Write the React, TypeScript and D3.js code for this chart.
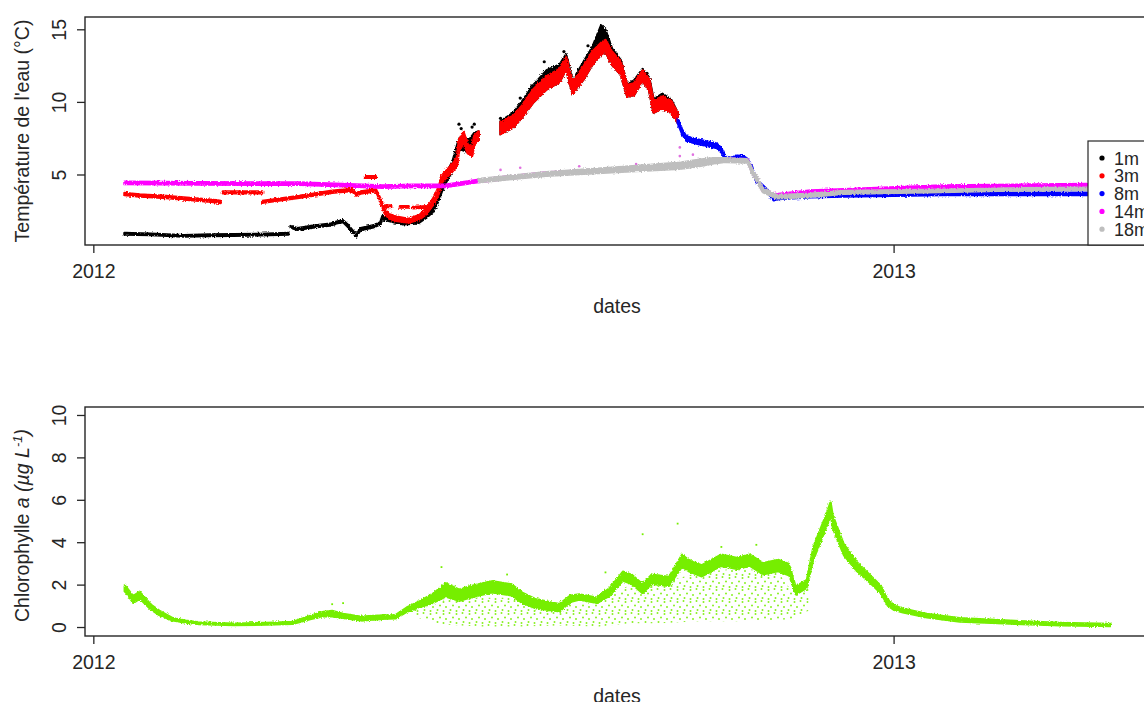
import React from 'react';
import * as d3 from 'd3';

const FONT = '"Liberation Sans", Arial, Helvetica, sans-serif';
const INK = '#262626';
const FS = 19.5;

// ---------- water temperature (°C) ----------
// 1m sensor (black); null = gap in the record
const t1mDates = [
  '2012-01-15', '2012-01-27', '2012-02-11', '2012-02-23', '2012-03-05', '2012-03-17', '2012-03-30',
  '2012-03-30',
  '2012-03-31', '2012-04-03', '2012-04-12', '2012-04-18', '2012-04-21', '2012-04-24', '2012-04-26', '2012-04-30',
  '2012-05-02', '2012-05-08', '2012-05-11', '2012-05-12', '2012-05-17', '2012-05-21', '2012-05-28', '2012-06-01',
  '2012-06-04', '2012-06-06', '2012-06-09', '2012-06-13', '2012-06-16', '2012-06-20', '2012-06-23', '2012-06-25',
  '2012-06-25',
  '2012-07-05', '2012-07-11', '2012-07-15', '2012-07-20', '2012-07-26', '2012-08-01', '2012-08-04', '2012-08-07',
  '2012-08-12', '2012-08-16', '2012-08-20', '2012-08-22', '2012-08-25', '2012-08-29', '2012-09-01', '2012-09-04',
  '2012-09-08', '2012-09-11', '2012-09-13', '2012-09-17', '2012-09-21', '2012-09-24',
];
const t1mLow = [
  0.9, 0.86, 0.76, 0.8, 0.82, 0.84, 0.9,
  null,
  1.38, 1.22, 1.42, 1.52, 1.66, 1.76, 1.46, 0.76, 1.2, 1.4, 1.6, 1.95, 1.75, 1.6, 1.65, 2.05,
  2.45, 3.0, 4.2, 5.3, 6.8, 6.6, 7.2, 7.4,
  null,
  7.8, 8.3, 9.0, 10.0, 10.9, 11.4, 12.3, 10.6, 11.6, 12.6, 13.3, 13.5, 12.6, 11.9, 10.4, 10.5,
  11.5, 10.8, 9.3, 9.6, 9.3, 8.6,
];
const t1mHigh = [
  1.0, 0.96, 0.86, 0.9, 0.92, 0.94, 1.0,
  null,
  1.5, 1.34, 1.54, 1.64, 1.78, 1.88, 1.6, 0.88, 1.34, 1.54, 1.74, 2.18, 1.93, 1.76, 1.8, 2.28,
  2.8, 3.4, 4.8, 5.9, 7.5, 7.3, 7.9, 8.0,
  null,
  8.7, 9.3, 10.1, 11.2, 12.2, 12.6, 13.3, 11.5, 12.8, 13.8, 15.3, 15.0, 13.7, 12.9, 11.2, 11.5,
  12.3, 11.7, 10.2, 10.6, 10.2, 9.3,
];
const t1mDotDates = ['2012-06-16', '2012-06-17', '2012-06-22', '2012-06-23', '2012-07-05', '2012-07-14', '2012-07-25', '2012-08-03', '2012-08-14', '2012-09-10'];
const t1mDotValues = [8.5, 8.2, 8.3, 8.5, 8.9, 10.3, 12.8, 13.5, 13.9, 12.0];

// 3m sensor (red)
const t3mDates = [
  '2012-01-15', '2012-01-22', '2012-02-03', '2012-02-18', '2012-02-26', '2012-02-28',
  '2012-02-28',
  '2012-02-29', '2012-03-18',
  '2012-03-18',
  '2012-05-04', '2012-05-09',
  '2012-05-09',
  '2012-05-13', '2012-05-16',
  '2012-05-16',
  '2012-05-20', '2012-05-24',
  '2012-05-24',
  '2012-05-26', '2012-06-01',
  '2012-06-01',
  '2012-03-18', '2012-04-04', '2012-04-19', '2012-04-28', '2012-04-30', '2012-05-02', '2012-05-09', '2012-05-11',
  '2012-05-13', '2012-05-15', '2012-05-18', '2012-05-24', '2012-05-29', '2012-06-01', '2012-06-03', '2012-06-05',
  '2012-06-07', '2012-06-08', '2012-06-13', '2012-06-15', '2012-06-16', '2012-06-18', '2012-06-20', '2012-06-22',
  '2012-06-23', '2012-06-25',
  '2012-06-25',
  '2012-07-05', '2012-07-11', '2012-07-15', '2012-07-20', '2012-07-26', '2012-08-01', '2012-08-04', '2012-08-07',
  '2012-08-12', '2012-08-16', '2012-08-20', '2012-08-22', '2012-08-25', '2012-08-29', '2012-09-01', '2012-09-04',
  '2012-09-08', '2012-09-11', '2012-09-13', '2012-09-17', '2012-09-21', '2012-09-24',
];
const t3mLow = [
  3.62, 3.52, 3.42, 3.22, 3.12, 3.07,
  null,
  3.74, 3.74,
  null,
  4.8, 4.8,
  null,
  2.8, 2.8,
  null,
  2.75, 2.75,
  null,
  2.7, 2.75,
  null,
  3.08, 3.42, 3.78, 3.9, 3.58, 3.72, 3.88, 3.2, 2.35, 2.0, 1.85, 1.72, 1.95, 2.3, 2.7, 3.1,
  3.8, 4.45, 5.25, 5.6, 6.6, 7.2, 6.5, 6.3, 7.1, 7.4,
  null,
  7.8, 8.3, 9.0, 10.0, 10.9, 11.4, 12.3, 10.6, 11.6, 12.6, 13.3, 13.5, 12.6, 11.9, 10.4, 10.5,
  11.5, 10.8, 9.3, 9.6, 9.3, 8.6,
];
const t3mHigh = [
  3.76, 3.66, 3.56, 3.36, 3.26, 3.21,
  null,
  3.86, 3.86,
  null,
  4.92, 4.92,
  null,
  2.9, 2.9,
  null,
  2.85, 2.85,
  null,
  2.8, 2.85,
  null,
  3.22, 3.56, 3.92, 4.04, 3.72, 3.86, 4.02, 3.4, 2.65, 2.3, 2.15, 1.98, 2.25, 2.7, 3.1, 3.6,
  4.3, 4.95, 5.75, 6.2, 7.4, 8.0, 7.1, 6.9, 7.7, 8.0,
  null,
  8.6, 9.1, 9.8, 10.9, 11.8, 12.3, 13.1, 11.4, 12.5, 13.5, 14.1, 14.3, 13.5, 12.8, 11.2, 11.3,
  12.2, 11.6, 10.1, 10.4, 10.1, 9.3,
];

// 8m sensor (blue)
const t8mDates = [
  '2012-09-24', '2012-09-26', '2012-09-28', '2012-10-03', '2012-10-12', '2012-10-14', '2012-10-16', '2012-10-19',
  '2012-10-21', '2012-10-24', '2012-10-26', '2012-10-28', '2012-10-30', '2012-11-04', '2012-11-07', '2012-11-09',
  '2012-11-24', '2012-12-09', '2013-01-01', '2013-01-23', '2013-02-23', '2013-03-18', '2013-03-30', '2013-04-10',
];
const t8mLow = [8.6, 7.85, 7.35, 7.15, 6.85, 6.55, 6.0, 6.0, 6.15, 6.1, 5.9, 5.4, 4.5, 3.8, 3.25, 3.35, 3.47, 3.52, 3.57, 3.62, 3.62, 3.62, 3.62, 3.62];
const t8mHigh = [8.9, 8.15, 7.65, 7.45, 7.15, 6.85, 6.2, 6.2, 6.35, 6.3, 6.1, 5.6, 4.7, 4.0, 3.45, 3.55, 3.63, 3.68, 3.73, 3.78, 3.78, 3.78, 3.78, 3.78];

// 14m sensor (magenta)
const t14mDates = [
  '2012-01-15', '2012-02-18', '2012-04-04', '2012-04-27', '2012-05-12', '2012-05-26', '2012-06-10', '2012-06-25',
  '2012-07-26', '2012-08-25', '2012-09-25', '2012-10-10', '2012-10-16', '2012-10-26', '2012-10-28', '2012-11-02',
  '2012-11-08', '2012-11-24', '2013-01-23', '2013-03-30', '2013-04-10',
];
const t14mLow = [4.37, 4.34, 4.32, 4.2, 4.12, 4.17, 4.17, 4.52, 5.02, 5.27, 5.52, 5.87, 5.97, 5.92, 5.22, 3.87, 3.52, 3.77, 4.12, 4.22, 4.22];
const t14mHigh = [4.53, 4.5, 4.48, 4.36, 4.28, 4.33, 4.33, 4.68, 5.18, 5.43, 5.68, 6.03, 6.13, 6.08, 5.38, 4.03, 3.68, 3.93, 4.28, 4.38, 4.38];
const t14mDotDates = ['2012-07-05', '2012-07-14', '2012-08-10', '2012-09-05', '2012-09-25', '2012-09-25', '2012-10-01'];
const t14mDotValues = [5.35, 5.5, 5.6, 5.75, 6.3, 6.9, 6.4];

// 18m sensor (grey)
const t18mDates = [
  '2012-06-25', '2012-07-26', '2012-08-25', '2012-09-25', '2012-10-04', '2012-10-10', '2012-10-16', '2012-10-26',
  '2012-10-28', '2012-11-02', '2012-11-08', '2012-11-11', '2012-11-24', '2012-12-09', '2013-01-23', '2013-02-23',
  '2013-03-30', '2013-04-10',
];
const t18mLow = [4.5, 4.95, 5.18, 5.42, 5.62, 5.78, 5.9, 5.85, 5.15, 3.82, 3.4, 3.4, 3.5, 3.7, 3.82, 3.92, 3.97, 3.97];
const t18mHigh = [4.72, 5.2, 5.5, 5.85, 6.05, 6.15, 6.15, 6.08, 5.45, 4.1, 3.65, 3.62, 3.72, 3.9, 3.98, 4.08, 4.13, 4.13];

// ---------- chlorophyll a (µg/L) ----------
const chlDates = [
  '2012-01-15', '2012-01-16', '2012-01-19', '2012-01-22', '2012-01-27', '2012-01-31', '2012-02-06', '2012-02-12',
  '2012-02-18', '2012-03-05', '2012-03-20', '2012-04-01', '2012-04-09', '2012-04-15', '2012-04-19', '2012-04-24',
  '2012-05-02', '2012-05-12', '2012-05-18', '2012-05-23', '2012-05-29', '2012-06-04', '2012-06-10', '2012-06-16',
  '2012-06-21', '2012-07-01', '2012-07-10', '2012-07-15', '2012-07-21', '2012-08-01', '2012-08-06', '2012-08-10',
  '2012-08-18', '2012-08-24', '2012-08-30', '2012-09-03', '2012-09-08', '2012-09-12', '2012-09-20', '2012-09-26',
  '2012-09-29', '2012-10-05', '2012-10-14', '2012-10-21', '2012-10-27', '2012-11-02', '2012-11-09', '2012-11-14',
  '2012-11-17', '2012-11-22', '2012-11-25', '2012-11-30', '2012-12-03', '2012-12-04', '2012-12-09', '2012-12-15',
  '2012-12-21', '2012-12-26', '2012-12-29', '2013-01-01', '2013-01-05', '2013-01-16', '2013-01-31', '2013-02-23',
  '2013-03-18', '2013-04-10',
];
const chlLow = [
  1.7, 1.6, 1.15, 1.35, 0.85, 0.57, 0.32, 0.22, 0.15, 0.1, 0.12, 0.16, 0.38, 0.52, 0.52, 0.44,
  0.32, 0.4, 0.42, 0.72, 0.95, 1.15, 1.45, 1.25, 1.4, 1.65, 1.5, 1.15, 0.9, 0.75, 1.2, 1.3,
  1.15, 1.5, 2.2, 2.05, 1.6, 2.05, 1.95, 2.85, 2.65, 2.4, 2.9, 2.75, 2.9, 2.5, 2.65, 2.45,
  1.55, 1.85, 3.15, 4.45, 5.25, 4.65, 3.4, 2.65, 2.1, 1.6, 1.03, 0.82, 0.7, 0.47, 0.27, 0.17,
  0.09, 0.06,
];
const chlHigh = [
  2.0, 1.9, 1.5, 1.7, 1.1, 0.8, 0.46, 0.34, 0.25, 0.2, 0.23, 0.28, 0.56, 0.75, 0.8, 0.66,
  0.52, 0.58, 0.6, 0.95, 1.25, 1.6, 2.1, 1.8, 1.95, 2.2, 2.05, 1.65, 1.35, 1.12, 1.52, 1.58,
  1.42, 1.88, 2.65, 2.5, 2.05, 2.5, 2.4, 3.45, 3.2, 2.95, 3.45, 3.3, 3.45, 3.05, 3.2, 3.0,
  1.95, 2.25, 3.8, 5.1, 5.95, 5.3, 3.95, 3.1, 2.48, 1.98, 1.35, 1.05, 0.9, 0.65, 0.45, 0.33,
  0.23, 0.18,
];
// sparse cloud of low readings under the main band
const chlCloudDates = [
  '2012-05-27', '2012-06-07', '2012-06-25', '2012-07-14', '2012-08-01', '2012-08-19', '2012-09-02',
  '2012-09-16', '2012-10-04', '2012-10-22', '2012-11-09', '2012-11-16', '2012-11-23',
];
const chlCloudLow = [0.5, 0.15, 0.05, 0.05, 0.1, 0.05, 0.2, 0.2, 0.3, 0.3, 0.35, 0.4, 0.8];
const chlCloudHigh = [0.9, 1.3, 1.4, 1.4, 1.1, 1.2, 2.0, 2.1, 2.6, 2.8, 2.6, 1.6, 2.0];
const chlDotDates = ['2012-04-19', '2012-04-24', '2012-06-08', '2012-07-08', '2012-08-22', '2012-09-08', '2012-09-24', '2012-10-14', '2012-10-30'];
const chlDotValues = [1.1, 1.15, 2.85, 2.5, 2.6, 4.4, 4.9, 3.8, 3.9];

// ---------- axes ----------
const yearTicks = ['2012-01-01', '2013-01-01'];
const yearLabels = ['2012', '2013'];
const tempTicks = [5, 10, 15];
const chlTicks = [0, 2, 4, 6, 8, 10];
const chlLimits = [0, 10];
const legendLabels = ['1m', '3m', '8m', '14m', '18m'];
const legendColors = ['#000000', '#ff0000', '#0000ff', '#ff00ff', '#bebebe'];
const CHL_GREEN = '#76ee00';

const parse = d3.timeParse('%Y-%m-%d');
const toDates = (a: string[]) => a.map(s => parse(s) as Date);

// R style 4% padding of a range
const pad = (a: number, b: number): [number, number] => {
  const d = (b - a) * 0.04;
  return [a - d, b + d];
};

const PLOT_L = 85;
const PLOT_R = 1150;
const TOP = { y0: 17, y1: 245 };
const BOT = { y0: 407, y1: 636 };

type Scale = (v: any) => number;

function band(dates: string[], lo: (number | null)[], hi: (number | null)[], x: Scale, y: Scale) {
  const ds = toDates(dates);
  return d3.area<number>()
    .defined(i => lo[i] != null && hi[i] != null)
    .x(i => x(ds[i]))
    .y0(i => y(lo[i] as number))
    .y1(i => y(hi[i] as number))(d3.range(ds.length)) || '';
}

const App: React.FC = () => {
  const allDates = toDates([...t1mDates, ...t3mDates, ...t8mDates, ...t14mDates, ...t18mDates, ...chlDates]);
  const [dMin, dMax] = d3.extent(allDates) as [Date, Date];
  const [xa, xb] = pad(+dMin, +dMax);
  const x = d3.scaleTime().domain([new Date(xa), new Date(xb)]).range([PLOT_L, PLOT_R]);

  const tempVals = [...t1mLow, ...t1mHigh, ...t3mLow, ...t3mHigh, ...t8mLow, ...t8mHigh, ...t14mLow, ...t14mHigh, ...t18mLow, ...t18mHigh]
    .filter((v): v is number => v != null);
  const [tMin, tMax] = d3.extent(tempVals) as [number, number];
  const yT = d3.scaleLinear().domain(pad(tMin, tMax)).range([TOP.y1, TOP.y0]);
  const yC = d3.scaleLinear().domain(pad(chlLimits[0], chlLimits[1])).range([BOT.y1, BOT.y0]);

  const tempSeries = [
    { d: t1mDates, lo: t1mLow, hi: t1mHigh, c: legendColors[0] },
    { d: t3mDates, lo: t3mLow, hi: t3mHigh, c: legendColors[1] },
    { d: t8mDates, lo: t8mLow, hi: t8mHigh, c: legendColors[2] },
    { d: t14mDates, lo: t14mLow, hi: t14mHigh, c: legendColors[3] },
    { d: t18mDates, lo: t18mLow, hi: t18mHigh, c: legendColors[4] },
  ];

  const xAxis = (yBase: number, labelY: number, titleY: number) => (
    <g fontFamily={FONT} fontSize={FS} fill={INK}>
      {toDates(yearTicks).map((t, i) => (
        <g key={i}>
          <line x1={x(t)} x2={x(t)} y1={yBase} y2={yBase + 8} stroke={INK} strokeWidth={1.3} />
          <text x={x(t)} y={labelY} textAnchor="middle">{yearLabels[i]}</text>
        </g>
      ))}
      <text x={617} y={titleY} textAnchor="middle">dates</text>
    </g>
  );

  const yAxis = (ticks: number[], y: Scale) => (
    <g fontFamily={FONT} fontSize={FS} fill={INK}>
      {ticks.map(t => (
        <g key={t}>
          <line x1={PLOT_L - 8} x2={PLOT_L} y1={y(t)} y2={y(t)} stroke={INK} strokeWidth={1.3} />
          <text transform={`translate(65.5,${y(t)}) rotate(-90)`} textAnchor="middle">{t}</text>
        </g>
      ))}
    </g>
  );

  return (
    <svg width={1144} height={702} style={{ position: 'absolute', left: 0, top: 0, background: '#fff' }}>
      <defs>
        <clipPath id="clipTop"><rect x={PLOT_L} y={TOP.y0} width={PLOT_R - PLOT_L} height={TOP.y1 - TOP.y0} /></clipPath>
        <clipPath id="clipBot"><rect x={PLOT_L} y={BOT.y0} width={PLOT_R - PLOT_L} height={BOT.y1 - BOT.y0} /></clipPath>
        {/* slightly ragged edges, like a dense point cloud */}
        <filter id="rough" x="-2%" y="-10%" width="104%" height="120%">
          <feTurbulence type="fractalNoise" baseFrequency="0.7" numOctaves={1} seed={4} result="n" />
          <feDisplacementMap in="SourceGraphic" in2="n" scale={3.5} xChannelSelector="R" yChannelSelector="G" />
        </filter>
        <pattern id="chlCloud" width={13} height={12} patternUnits="userSpaceOnUse">
          {[[1.5, 2], [7.5, 1], [11, 5.5], [4, 7], [8.5, 10], [1.5, 11]].map(([cx, cy], i) => (
            <rect key={i} x={cx - 0.8} y={cy - 0.8} width={1.6} height={1.6} fill={CHL_GREEN} />
          ))}
        </pattern>
      </defs>

      {/* ---------- temperature panel ---------- */}
      <g clipPath="url(#clipTop)">
        {toDates(t1mDotDates).map((d, i) => (
          <circle key={'b' + i} cx={x(d)} cy={yT(t1mDotValues[i])} r={1.6} fill="#000" />
        ))}
        {tempSeries.map((s, i) => (
          <g key={i}>
            <path d={band(s.d, s.lo, s.hi, x, yT)} fill={s.c} stroke={s.c} strokeWidth={2.4}
              strokeLinejoin="round" filter="url(#rough)" />
            {i === 3 && toDates(t14mDotDates).map((d, j) => (
              <circle key={j} cx={x(d)} cy={yT(t14mDotValues[j])} r={1.3} fill="#e070e0" />
            ))}
          </g>
        ))}
      </g>
      <rect x={PLOT_L} y={TOP.y0} width={PLOT_R - PLOT_L} height={TOP.y1 - TOP.y0} fill="none" stroke={INK} strokeWidth={1.4} />
      {yAxis(tempTicks, yT)}
      {xAxis(TOP.y1, 278, 313)}
      <text transform={`translate(29,${(TOP.y0 + TOP.y1) / 2}) rotate(-90)`} textAnchor="middle"
        fontFamily={FONT} fontSize={FS} fill={INK}>Température de l'eau (°C)</text>

      {/* legend */}
      <g fontFamily={FONT} fontSize={18} fill={INK}>
        <rect x={1088} y={141} width={PLOT_R - 1088} height={TOP.y1 - 141} fill="#fff" stroke={INK} strokeWidth={1.2} />
        {legendLabels.map((l, i) => (
          <g key={l} transform={`translate(0,${158 + i * 17.8})`}>
            <circle cx={1102} cy={0} r={2.6} fill={legendColors[i]} />
            <text x={1114} y={6.5}>{l}</text>
          </g>
        ))}
      </g>

      {/* ---------- chlorophyll panel ---------- */}
      <g clipPath="url(#clipBot)">
        <path d={band(chlCloudDates, chlCloudLow, chlCloudHigh, x, yC)} fill="url(#chlCloud)" />
        <path d={band(chlDates, chlLow, chlHigh, x, yC)} fill={CHL_GREEN} stroke={CHL_GREEN} strokeWidth={1.8}
          strokeLinejoin="round" filter="url(#rough)" />
        {toDates(chlDotDates).map((d, i) => (
          <rect key={i} x={x(d) - 0.9} y={yC(chlDotValues[i]) - 0.9} width={1.8} height={1.8} fill={CHL_GREEN} />
        ))}
      </g>
      <rect x={PLOT_L} y={BOT.y0} width={PLOT_R - PLOT_L} height={BOT.y1 - BOT.y0} fill="none" stroke={INK} strokeWidth={1.4} />
      {yAxis(chlTicks, yC)}
      {xAxis(BOT.y1, 669, 703)}
      <text transform={`translate(29,${(BOT.y0 + BOT.y1) / 2 + 4}) rotate(-90)`} textAnchor="middle"
        fontFamily={FONT} fontSize={FS} fill={INK}>
        Chlorophylle <tspan fontStyle="italic">a</tspan> <tspan fontStyle="italic">(µg L</tspan>
        <tspan fontStyle="italic" fontSize={13} dy={-7}>-1</tspan>
        <tspan fontStyle="italic" dy={7}>)</tspan>
      </text>
    </svg>
  );
};

export default App;
